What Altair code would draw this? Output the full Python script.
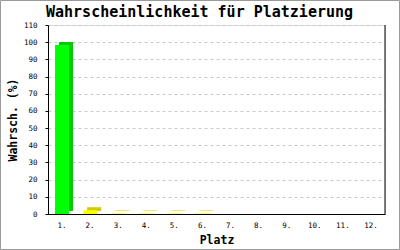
import altair as alt
import pandas as pd

places = ["1.", "2.", "3.", "4.", "5.", "6.", "7.", "8.", "9.", "10.", "11.", "12."]
probability = [98.4, 2.2, 0.3, 0.3, 0.3, 0.3, 0, 0, 0, 0, 0, 0]
y_ticks = [0, 10, 20, 30, 40, 50, 60, 70, 80, 90, 100, 110]
title_text = "Wahrscheinlichkeit für Platzierung"

df = pd.DataFrame({"Platz": places, "Wahrsch": probability})

W, H = 337, 189
MONO = "DejaVu Sans Mono"

x_enc = alt.X(
    "Platz:N",
    sort=places,
    scale=alt.Scale(paddingInner=0, paddingOuter=0),
    axis=alt.Axis(
        title="Platz", titleFont=MONO, titleFontSize=11.5, titleFontWeight="bold",
        titleColor="black", titleY=29, titleBaseline="alphabetic",
        labelFont=MONO, labelFontSize=7.5, labelColor="black", labelAngle=0,
        labelPadding=7, ticks=False, domainColor="black", grid=False,
    ),
)
y_enc = alt.Y(
    "Wahrsch:Q",
    scale=alt.Scale(domain=[0, 110], nice=False),
    axis=alt.Axis(
        title="Wahrsch. (%)", titleFont=MONO, titleFontSize=11.5, titleFontWeight="bold",
        titleColor="black", titleX=-31.5, titleY=H / 2, titleAngle=-90,
        titleBaseline="alphabetic", titleAlign="center",
        values=y_ticks, labelFont=MONO, labelFontSize=7.5, labelColor="black",
        labelPadding=8, tickSize=3, tickColor="black", domainColor="black",
        grid=True, gridColor="#c8c8c8", gridDash=[3, 3],
    ),
)

is_first = alt.datum.Platz == "1."

depth = alt.Chart(df).mark_bar(size=14, xOffset=4, yOffset=-3, y2Offset=-3).encode(
    x=x_enc, y=y_enc,
    color=alt.condition(is_first, alt.value("#00cc00"), alt.value("#cccc00")),
)
front = alt.Chart(df).mark_bar(size=14).encode(
    x=x_enc, y=y_enc,
    color=alt.condition(is_first, alt.value("#00ff00"), alt.value("#ffff00")),
)

one = alt.Data(values=[{"t": title_text}])
right_line = alt.Chart(one).mark_rule(color="black", strokeWidth=1).encode(
    x=alt.value(W), y=alt.value(0), y2=alt.value(H)
)
frame = alt.Chart(one).mark_rect(fill=None, stroke="#9a9a9a", strokeWidth=1).encode(
    x=alt.value(-47.5), x2=alt.value(351.5), y=alt.value(-24.5), y2=alt.value(224.5)
)
title = alt.Chart(one).mark_text(
    font=MONO, fontSize=15, fontWeight="bold", color="black",
    align="center", baseline="alphabetic",
).encode(x=alt.value(151.5), y=alt.value(-8), text="t:N")

chart = alt.layer(depth, front, right_line, frame, title).properties(
    width=W, height=H,
    autosize=alt.AutoSizeParams(type="none"),
    padding={"left": 48, "top": 25, "right": 15, "bottom": 36},
).configure_view(stroke=None).configure(background="white")

chart.save("out.html", embed_options={"renderer": "svg", "actions": False})
